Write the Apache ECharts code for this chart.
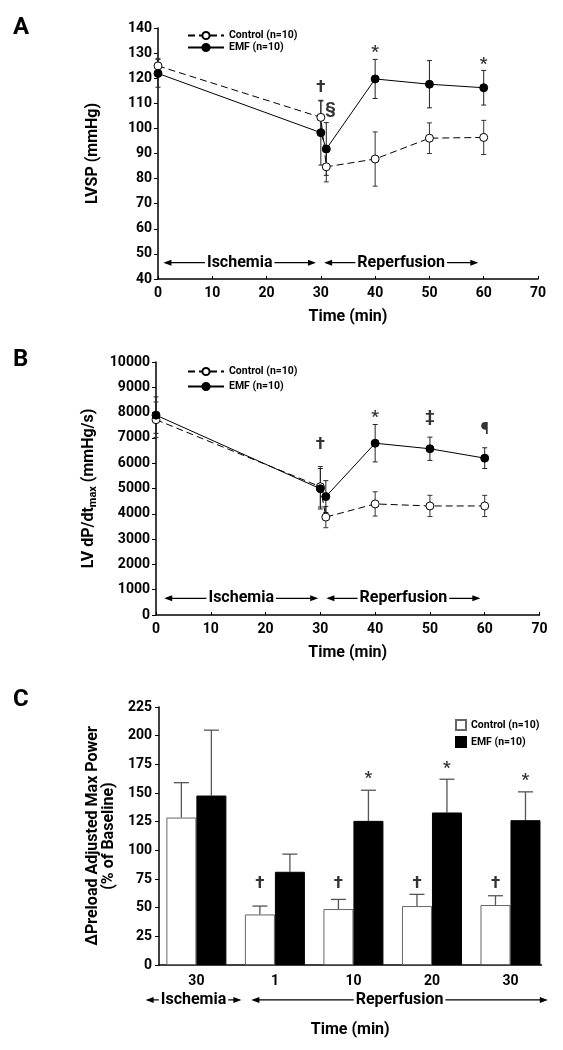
<!DOCTYPE html>
<html>
<head>
<meta charset="utf-8">
<script src="https://cdn.jsdelivr.net/npm/echarts@6/dist/echarts.min.js"></script>
<style>
  html, body { margin: 0; padding: 0; background: #fff; }
  #chart { width: 563px; height: 1050px; }
</style>
</head>
<body>
<div id="chart"></div>
<script>
// ---------- DATA ----------
const timeMin = [0, 30, 31, 40, 50, 60];

const lvspControl    = [124.9, 104.4, 84.7, 87.8, 96.1, 96.4];
const lvspControlErr = [3.0, 6.5, 6.0, 10.8, 6.1, 6.8];
const lvspEMF        = [121.9, 98.3, 91.8, 119.7, 117.6, 116.2];
const lvspEMFErr     = [5.5, 12.9, 10.5, 7.8, 9.4, 6.9];
const lvspMarks      = [[30, 116, '†'], [31.8, 107.6, '§'], [40, 130.0, '*'], [60, 125.4, '*']];

const dpdtControl    = [7720, 5070, 3870, 4390, 4310, 4310];
const dpdtControlErr = [700, 800, 420, 480, 420, 420];
const dpdtEMF        = [7900, 4990, 4680, 6790, 6570, 6200];
const dpdtEMFErr     = [720, 800, 630, 740, 460, 410];
const dpdtMarks      = [[30, 6730, '†'], [40, 7800, '*'], [50, 7800, '‡'], [60, 7320, '¶']];

const powerCategories = ['30', '1', '10', '20', '30'];
const powerControl    = [128.6, 44.1, 48.8, 51.4, 52.3];
const powerControlErr = [30.4, 7.3, 8.4, 10.2, 8.1];
const powerEMF        = [147.8, 81.3, 125.7, 133.0, 126.3];
const powerEMFErr     = [57.0, 15.4, 26.7, 29.0, 24.7];
const powerControlMarks = [[1, 71, '†'], [2, 71, '†'], [3, 71, '†'], [4, 71, '†']];
const powerEMFMarks     = [[2, 162.5, '*'], [3, 171, '*'], [4, 161, '*']];

const phaseNames = ['Ischemia', 'Reperfusion'];
const lvspPhaseSpans  = [[1.0, 29.1], [30.6, 59.0]];
const lvspPhaseY = 46.5;
const dpdtPhaseSpans  = [[1.5, 29.6], [31.1, 59.2]];
const dpdtPhaseY = 660;
const powerPhaseSpans = [[-0.646, 0.573], [0.70, 4.475]];
const powerPhaseY = -30.5;

// ---------- STYLE ----------
const FF = "Roboto, 'Liberation Sans', sans-serif";
const BAR_W = 30;

const chart = echarts.init(document.getElementById('chart'), null, { renderer: 'canvas' });

function errorSeries(xi, yi, xs, ys, errs, cap, color, z) {
  return {
    type: 'custom', xAxisIndex: xi, yAxisIndex: yi, z: z || 2, silent: true,
    data: xs.map((x, i) => [x, ys[i] - errs[i], ys[i] + errs[i]]),
    renderItem: function (params, api) {
      const lo = api.coord([api.value(0), api.value(1)]);
      const hi = api.coord([api.value(0), api.value(2)]);
      const st = { stroke: color, lineWidth: 1 };
      return { type: 'group', children: [
        { type: 'line', shape: { x1: lo[0], y1: lo[1], x2: hi[0], y2: hi[1] }, style: st },
        { type: 'line', shape: { x1: lo[0] - cap, y1: lo[1], x2: lo[0] + cap, y2: lo[1] }, style: st },
        { type: 'line', shape: { x1: hi[0] - cap, y1: hi[1], x2: hi[0] + cap, y2: hi[1] }, style: st }
      ]};
    }
  };
}

function barErrorSeries(xs, ys, errs, offset, color) {
  return {
    type: 'custom', xAxisIndex: 2, yAxisIndex: 2, z: 1, silent: true,
    data: xs.map((x, i) => [x, ys[i], ys[i] + errs[i]]),
    renderItem: function (params, api) {
      const lo = api.coord([api.value(0), api.value(1)]);
      const hi = api.coord([api.value(0), api.value(2)]);
      const x = lo[0] + offset;
      const st = { stroke: color, lineWidth: 1.3 };
      return { type: 'group', children: [
        { type: 'line', shape: { x1: x, y1: lo[1], x2: x, y2: hi[1] }, style: st },
        { type: 'line', shape: { x1: x - 7.5, y1: hi[1], x2: x + 7.5, y2: hi[1] }, style: st }
      ]};
    }
  };
}

function markSeries(xi, yi, marks, offset) {
  return {
    type: 'scatter', xAxisIndex: xi, yAxisIndex: yi, symbolSize: 0, z: 6, silent: true,
    data: marks.map(m => m),
    label: {
      show: true, position: 'inside', offset: offset || [0, 0],
      formatter: p => p.value[2],
      fontSize: 17, fontWeight: 'bold', fontFamily: FF, color: '#000'
    }
  };
}

function lineSeries(name, xi, yi, ys, dashed) {
  return {
    name: name, type: 'line', xAxisIndex: xi, yAxisIndex: yi, z: 4,
    data: timeMin.map((t, i) => [t, ys[i]]),
    symbol: 'circle', symbolSize: 8,
    lineStyle: { color: '#000', width: 1, type: dashed ? [7, 4] : 'solid' },
    itemStyle: dashed ? { color: '#fff', borderColor: '#000', borderWidth: 1 } : { color: '#000', borderColor: '#000', borderWidth: 1 }
  };
}

const axisLine = { show: true, onZero: false, lineStyle: { color: '#000', width: 1.5 } };
const tickLbl = { color: '#000', fontSize: 14, fontWeight: 'bold', fontFamily: FF };
const titleStyle = { color: '#000', fontSize: 16, fontWeight: 'bold', fontFamily: FF };

function timeAxis(gi) {
  return {
    type: 'value', gridIndex: gi, min: 0, max: 70, interval: 10,
    axisLine: axisLine, axisTick: { show: true, inside: true, length: 3, lineStyle: { color: '#000' } },
    splitLine: { show: false },
    axisLabel: Object.assign({ margin: 7 }, tickLbl),
    name: 'Time (min)', nameLocation: 'middle', nameGap: 30, nameTextStyle: titleStyle
  };
}

const legendFmt = n => n.replace(/^[ABC] /, '');
const legendText = { fontSize: 10.5, fontWeight: 'bold', fontFamily: FF, color: '#000' };
const letterStyle = { fontSize: 24, fontWeight: 'bold', fontFamily: FF, color: '#000' };

const option = {
  animation: false,
  backgroundColor: '#fff',
  textStyle: { fontFamily: FF },
  title: [
    { text: 'A', left: 8, top: 11, textStyle: letterStyle },
    { text: 'B', left: 8, top: 343, textStyle: letterStyle },
    { text: 'C', left: 8, top: 683, textStyle: letterStyle }
  ],
  grid: [
    { left: 158, top: 28, width: 380, height: 251 },
    { left: 156, top: 362, width: 383.5, height: 253 },
    { left: 159, top: 707, width: 382.5, height: 258 }
  ],
  legend: [
    { data: ['A Control (n=10)', 'A EMF (n=10)'], orient: 'vertical', left: 182, top: 25,
      itemWidth: 36, itemHeight: 9, itemGap: 1, formatter: legendFmt, textStyle: legendText, selectedMode: false },
    { data: ['B Control (n=10)', 'B EMF (n=10)'], orient: 'vertical', left: 182, top: 361,
      itemWidth: 36, itemHeight: 9, itemGap: 4, formatter: legendFmt, textStyle: legendText, selectedMode: false },
    { data: ['C Control (n=10)', 'C EMF (n=10)'], orient: 'vertical', left: 450, top: 714, icon: 'rect',
      itemWidth: 10, itemHeight: 10, itemGap: 5, formatter: legendFmt, textStyle: legendText, selectedMode: false }
  ],
  xAxis: [
    timeAxis(0),
    timeAxis(1),
    {
      type: 'value', gridIndex: 2, min: -0.476, max: 4.395,
      axisLine: axisLine, axisTick: { show: false }, splitLine: { show: false },
      axisLabel: Object.assign({ margin: 9, customValues: [0, 1, 2, 3, 4],
        formatter: v => powerCategories[Math.round(v)] }, tickLbl),
      name: 'Time (min)', nameLocation: 'middle', nameGap: 57, nameTextStyle: titleStyle
    }
  ],
  yAxis: [
    {
      type: 'value', gridIndex: 0, min: 40, max: 140, interval: 10,
      axisLine: axisLine, axisTick: { show: true, length: 4, lineStyle: { color: '#000' } },
      splitLine: { show: false }, axisLabel: Object.assign({ margin: 6 }, tickLbl),
      name: 'LVSP (mmHg)', nameLocation: 'middle', nameRotate: 90, nameGap: 57, nameTextStyle: titleStyle
    },
    {
      type: 'value', gridIndex: 1, min: 0, max: 10000, interval: 1000,
      axisLine: axisLine, axisTick: { show: true, length: 4, lineStyle: { color: '#000' } },
      splitLine: { show: false },
      axisLabel: Object.assign({ margin: 6, formatter: v => String(v) }, tickLbl),
      name: '{a|LV dP/dt}{s|max}{a| (mmHg/s)}', nameLocation: 'middle', nameRotate: 90, nameGap: 53,
      nameTextStyle: Object.assign({}, titleStyle, { rich: {
        a: { fontSize: 16, fontWeight: 'bold', fontFamily: FF, color: '#000', lineHeight: 20 },
        s: { fontSize: 11, fontWeight: 'bold', fontFamily: FF, color: '#000', lineHeight: 11, verticalAlign: 'bottom' }
      } })
    },
    {
      type: 'value', gridIndex: 2, min: 0, max: 225, interval: 25,
      axisLine: axisLine, axisTick: { show: true, length: 4, lineStyle: { color: '#000' } },
      splitLine: { show: false }, axisLabel: Object.assign({ margin: 7 }, tickLbl),
      name: 'ΔPreload Adjusted Max Power\n(% of Baseline)', nameLocation: 'middle', nameRotate: 90, nameGap: 40,
      nameTextStyle: Object.assign({}, titleStyle, { lineHeight: 16 })
    }
  ],
  series: [
    // Panel A
    errorSeries(0, 0, timeMin, lvspControl, lvspControlErr, 2.5, '#333', 2),
    errorSeries(0, 0, timeMin, lvspEMF, lvspEMFErr, 2.5, '#222', 2),
    lineSeries('A Control (n=10)', 0, 0, lvspControl, true),
    lineSeries('A EMF (n=10)', 0, 0, lvspEMF, false),
    markSeries(0, 0, lvspMarks),
    // Panel B
    errorSeries(1, 1, timeMin, dpdtControl, dpdtControlErr, 2.5, '#333', 2),
    errorSeries(1, 1, timeMin, dpdtEMF, dpdtEMFErr, 2.5, '#222', 2),
    lineSeries('B Control (n=10)', 1, 1, dpdtControl, true),
    lineSeries('B EMF (n=10)', 1, 1, dpdtEMF, false),
    markSeries(1, 1, dpdtMarks),
    // Panel C
    barErrorSeries([0, 1, 2, 3, 4], powerControl, powerControlErr, -BAR_W / 2, '#555'),
    barErrorSeries([0, 1, 2, 3, 4], powerEMF, powerEMFErr, BAR_W / 2, '#555'),
    {
      name: 'C Control (n=10)', type: 'bar', xAxisIndex: 2, yAxisIndex: 2, z: 3,
      barWidth: BAR_W, barGap: '0%',
      data: powerControl.map((v, i) => [i, v]),
      itemStyle: { color: '#fff', borderColor: '#666', borderWidth: 1 }
    },
    {
      name: 'C EMF (n=10)', type: 'bar', xAxisIndex: 2, yAxisIndex: 2, z: 3,
      barWidth: BAR_W, barGap: '0%',
      data: powerEMF.map((v, i) => [i, v]),
      itemStyle: { color: '#000', borderColor: '#000', borderWidth: 1 }
    },
    markSeries(2, 2, powerControlMarks, [-BAR_W / 2, 0]),
    markSeries(2, 2, powerEMFMarks, [BAR_W / 2, 0])
  ]
};

chart.setOption(option);

// Phase arrows, positioned through the chart's own scales
function phaseGraphics(gridIndex, spans, yVal) {
  const out = [];
  spans.forEach((span, k) => {
    const p1 = chart.convertToPixel({ gridIndex: gridIndex }, [span[0], yVal]);
    const p2 = chart.convertToPixel({ gridIndex: gridIndex }, [span[1], yVal]);
    const y = p1[1];
    const a = 8, h = 3;
    out.push({ type: 'line', z: 100, silent: true,
      shape: { x1: p1[0] + 2, y1: y, x2: p2[0] - 2, y2: y }, style: { stroke: '#000', lineWidth: 1.2 } });
    out.push({ type: 'polygon', z: 100, silent: true,
      shape: { points: [[p1[0], y], [p1[0] + a, y - h], [p1[0] + a, y + h]] }, style: { fill: '#000' } });
    out.push({ type: 'polygon', z: 100, silent: true,
      shape: { points: [[p2[0], y], [p2[0] - a, y - h], [p2[0] - a, y + h]] }, style: { fill: '#000' } });
    out.push({ type: 'text', z: 101, silent: true,
      x: (p1[0] + p2[0]) / 2, y: y,
      style: { text: phaseNames[k], fill: '#000', font: "bold 16px " + FF,
        align: 'center', verticalAlign: 'middle', backgroundColor: '#fff', padding: [0, 2] } });
  });
  return out;
}

chart.setOption({
  graphic: [].concat(
    phaseGraphics(0, lvspPhaseSpans, lvspPhaseY),
    phaseGraphics(1, dpdtPhaseSpans, dpdtPhaseY),
    phaseGraphics(2, powerPhaseSpans, powerPhaseY)
  )
});
</script>
</body>
</html>
